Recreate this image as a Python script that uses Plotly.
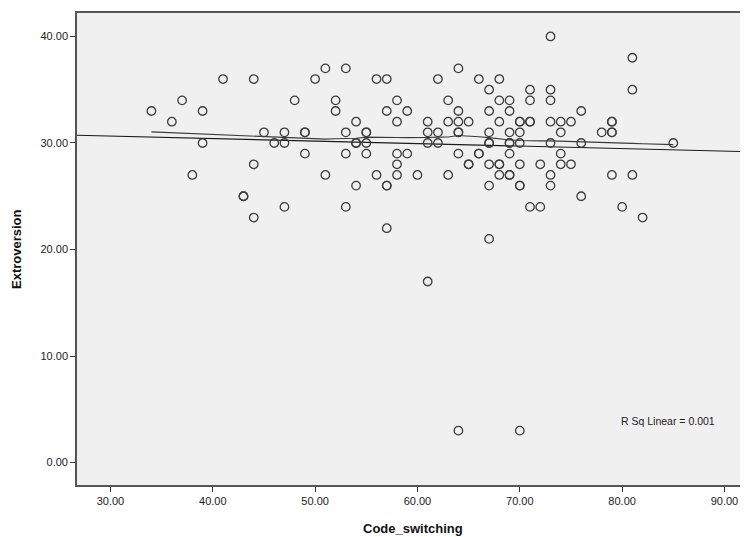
import numpy as np
import plotly.graph_objects as go

# Data (Code_switching x, Extroversion y), grouped by y value
rows = {
    40: [73],
    38: [81],
    37: [51, 53, 64],
    36: [41, 44, 50, 56, 57, 62, 66, 68],
    35: [67, 71, 73, 81],
    34: [37, 48, 52, 58, 63, 68, 69, 71, 73],
    33: [34, 39, 52, 57, 59, 64, 67, 69, 76],
    32: [36, 54, 58, 61, 63, 64, 65, 68, 70, 70, 71, 71, 73, 74, 75, 79, 79],
    31: [45, 47, 49, 49, 53, 55, 55, 61, 62, 64, 64, 67, 69, 70, 74, 78, 79, 79],
    30: [39, 46, 47, 54, 54, 55, 61, 62, 67, 67, 69, 69, 70, 73, 76, 85],
    29: [49, 53, 55, 58, 59, 64, 66, 66, 69, 74],
    28: [44, 58, 65, 65, 67, 68, 68, 70, 72, 74, 75],
    27: [38, 51, 56, 58, 60, 63, 68, 69, 69, 73, 79, 81],
    26: [54, 57, 57, 67, 70, 70, 73],
    25: [43, 43, 76],
    24: [47, 53, 71, 72, 80],
    23: [44, 82],
    22: [57],
    21: [67],
    17: [61],
    3: [64, 70],
}
code_switching = [xv for yv, xs in rows.items() for xv in xs]
extroversion = [yv for yv, xs in rows.items() for _ in xs]

x_range = [26.73, 92.3]
y_range = [-2.1, 42.2]
x_ticks = [30, 40, 50, 60, 70, 80, 90]
y_ticks = [0, 10, 20, 30, 40]
r2_label = "R Sq Linear = 0.001"
x_title = "Code_switching"
y_title = "Extroversion"

x = np.array(code_switching, dtype=float)
y = np.array(extroversion, dtype=float)

# Linear fit
slope, intercept = np.polyfit(x, y, 1)
fit_x = np.array(x_range)
fit_y = intercept + slope * fit_x


# Robust loess (50% of points, Epanechnikov kernel, bisquare robustness iterations)
def loess(xv, yv, xs, frac=0.5, iters=3):
    n = len(xv)
    k = int(np.ceil(frac * n))
    rw = np.ones(n)

    def fit_at(x0, rw):
        d = np.abs(xv - x0)
        h = max(np.sort(d)[k - 1], 1e-9)
        u = d / h
        w = np.where(u < 1, 0.75 * (1 - u ** 2), 0.0) * rw
        W = np.sum(w)
        xm = np.sum(w * xv) / W
        ym = np.sum(w * yv) / W
        sxx = np.sum(w * (xv - xm) ** 2)
        b = np.sum(w * (xv - xm) * (yv - ym)) / sxx if sxx > 0 else 0.0
        return ym + b * (x0 - xm)

    for _ in range(iters):
        fitted = np.array([fit_at(x0, rw) for x0 in xv])
        res = yv - fitted
        s = max(np.median(np.abs(res)), 1e-9)
        u = res / (6 * s)
        rw = np.where(np.abs(u) < 1, (1 - u ** 2) ** 2, 0.0)
    return np.array([fit_at(x0, rw) for x0 in xs])


lo_x = np.unique(x)
lo_y = loess(x, y, lo_x)

font_family = "Liberation Sans, Arial, sans-serif"

fig = go.Figure()
fig.add_trace(go.Scatter(
    x=fit_x, y=fit_y, mode="lines",
    line=dict(color="#1a1a1a", width=1.1),
    hoverinfo="skip", showlegend=False,
))
fig.add_trace(go.Scatter(
    x=lo_x, y=lo_y, mode="lines",
    line=dict(color="#3a3a3a", width=1.1),
    hoverinfo="skip", showlegend=False,
))
fig.add_trace(go.Scatter(
    x=code_switching, y=extroversion, mode="markers",
    marker=dict(symbol="circle-open", size=8.5, color="#3c3c3c",
                line=dict(width=1.3, color="#3c3c3c")),
    showlegend=False,
))

fig.add_annotation(
    x=84.5, y=3.9, xref="x", yref="y", text=r2_label, showarrow=False,
    font=dict(family=font_family, size=10.5, color="#222222"),
)
fig.add_annotation(
    x=0.5, y=0, xref="paper", yref="paper", yanchor="middle", yshift=-43,
    text="<b>" + x_title + "</b>", showarrow=False,
    font=dict(family=font_family, size=13, color="#111111"),
)
fig.add_annotation(
    x=0, y=0.5, xref="paper", yref="paper", xanchor="center", xshift=-61,
    text="<b>" + y_title + "</b>", textangle=-90, showarrow=False,
    font=dict(family=font_family, size=13, color="#111111"),
)

# The page body adds an 8px offset, so the figure is sized to fit the window
fig.update_layout(
    width=740, height=529,
    margin=dict(l=69, r=0, t=5, b=52, autoexpand=False),
    paper_bgcolor="white",
    plot_bgcolor="#f0f0f0",
    font=dict(family=font_family, color="#222222"),
    showlegend=False,
    xaxis=dict(
        range=x_range, tickvals=x_ticks, tickformat=".2f", automargin=False,
        showgrid=False, zeroline=False,
        showline=True, linecolor="#555555", linewidth=1.6, mirror=True,
        ticks="outside", ticklen=5, tickwidth=1.3, tickcolor="#333333",
        tickfont=dict(size=11, color="#222222", family=font_family),
    ),
    yaxis=dict(
        range=y_range, tickvals=y_ticks, tickformat=".2f", automargin=False,
        showgrid=False, zeroline=False,
        showline=True, linecolor="#555555", linewidth=1.6,
        ticks="outside", ticklen=5, tickwidth=1.3, tickcolor="#333333",
        tickfont=dict(size=11, color="#222222", family=font_family),
    ),
)

fig.write_html("out.html")
